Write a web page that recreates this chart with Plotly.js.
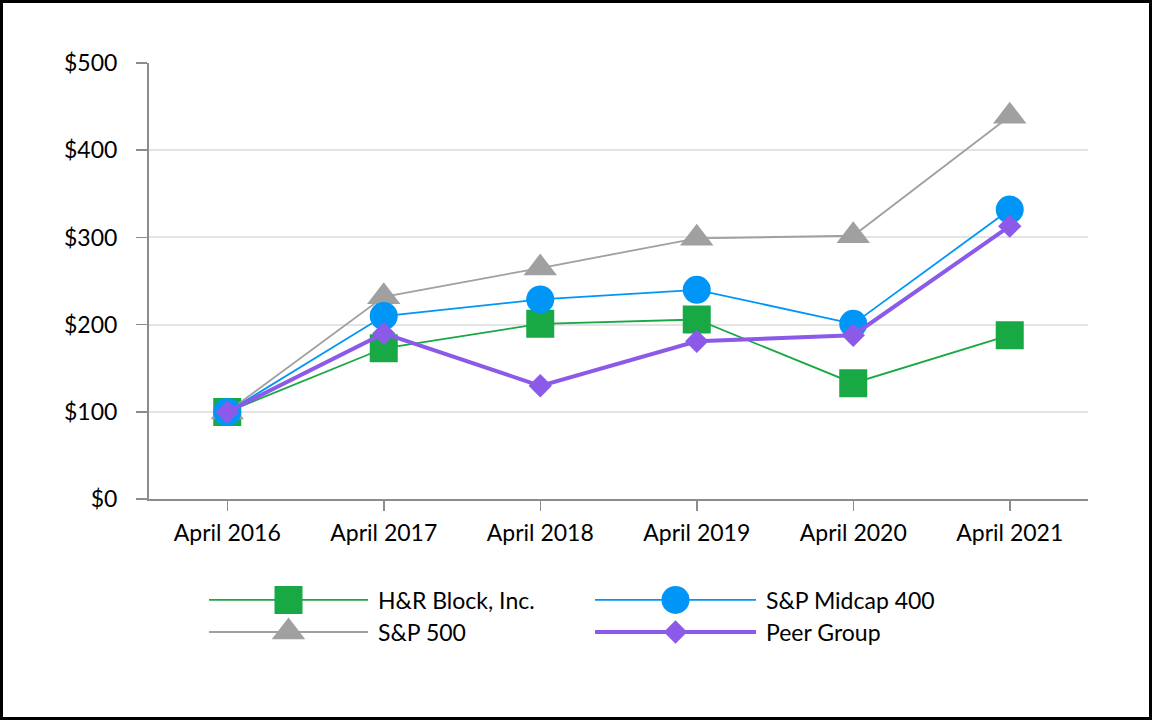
<!DOCTYPE html>
<html>
<head>
<meta charset="utf-8">
<script src="https://cdn.plot.ly/plotly-3.0.1.min.js"></script>
<style>
  html, body { margin: 0; padding: 0; background: #fff; }
  #wrap { width: 1152px; height: 720px; box-sizing: border-box; border: 3px solid #000; background: #fff; }
  #chart { width: 1146px; height: 714px; }
</style>
</head>
<body>
<div id="wrap"><div id="chart"></div></div>
<script>
// ---- data ----
const categories = ["April 2016", "April 2017", "April 2018", "April 2019", "April 2020", "April 2021"];
const hrBlock   = [100, 173, 201, 206, 133, 188];
const spMidcap  = [100, 210, 229, 240, 201, 332];
const sp500     = [100, 232, 265, 299, 302, 439];
const peerGroup = [100, 190, 130, 181, 188, 313];
const seriesNames = ["H&R Block, Inc.", "S&P Midcap 400", "S&P 500", "Peer Group"];
const yTicks = [0, 100, 200, 300, 400, 500];

// ---- styles ----
const FONT = "Lato, 'Open Sans', sans-serif";
const FS = 23;
const styles = {
  "H&R Block, Inc.": {color: "#18a844", symbol: "square", size: 28, width: 1.8},
  "S&P Midcap 400":  {color: "#0096f8", symbol: "circle", size: 28, width: 1.8},
  "S&P 500":         {color: "#a0a0a0", symbol: "triangle-up", size: 29, width: 1.8},
  "Peer Group":      {color: "#8c5ae8", symbol: "diamond", size: 18, width: 4}
};
const seriesData = {
  "H&R Block, Inc.": hrBlock,
  "S&P Midcap 400": spMidcap,
  "S&P 500": sp500,
  "Peer Group": peerGroup
};
// drawing order (back to front)
const drawOrder = ["H&R Block, Inc.", "S&P 500", "S&P Midcap 400", "Peer Group"];

const traces = drawOrder.map(name => ({
  type: "scatter",
  mode: "lines+markers",
  name: name,
  x: categories,
  y: seriesData[name],
  line: {color: styles[name].color, width: styles[name].width},
  marker: {color: styles[name].color, symbol: styles[name].symbol, size: styles[name].size, opacity: 1, line: {width: 0}},
  xaxis: "x", yaxis: "y",
  showlegend: false,
  hoverinfo: "skip"
}));

// ---- custom legend (layout positions in image pixels on a hidden overlay axis) ----
const legendSlots = [
  {x0: 209, x1: 368, y: 600, tx: 376},
  {x0: 595, x1: 756, y: 600, tx: 764},
  {x0: 209, x1: 368, y: 632, tx: 376},
  {x0: 595, x1: 756, y: 632, tx: 764}
];
const legendOrder = ["H&R Block, Inc.", "S&P Midcap 400", "S&P 500", "Peer Group"];
const annotations = [];
legendOrder.forEach((name, i) => {
  const s = legendSlots[i], st = styles[name];
  traces.push({
    type: "scatter", mode: "lines+markers",
    x: [s.x0, (s.x0 + s.x1) / 2, s.x1], y: [s.y, s.y, s.y],
    line: {color: st.color, width: st.width},
    marker: {color: st.color, symbol: st.symbol, size: [0, st.size, 0], opacity: 1, line: {width: 0}},
    xaxis: "x2", yaxis: "y2", showlegend: false, hoverinfo: "skip"
  });
  annotations.push({
    xref: "x2", yref: "y2", x: s.tx, y: s.y, text: name, showarrow: false,
    xanchor: "left", yanchor: "middle", font: {family: FONT, size: FS, color: "#000"}
  });
});

const layout = {
  width: 1146, height: 714,
  margin: {l: 146, r: 61, t: 60.3, b: 37, pad: 0},
  paper_bgcolor: "#fff", plot_bgcolor: "#fff",
  showlegend: false,
  font: {family: FONT, size: FS, color: "#000"},
  xaxis: {
    type: "category", categoryorder: "array", categoryarray: categories,
    range: [-0.5, 5.5], domain: [0, 1], anchor: "y",
    showgrid: false, zeroline: false,
    showline: true, linecolor: "#8c8c8c", linewidth: 2,
    ticks: "outside", ticklen: 10, tickwidth: 1.5, tickcolor: "#8c8c8c",
    ticklabelstandoff: 2,
    tickfont: {family: FONT, size: FS, color: "#000"},
    fixedrange: true
  },
  yaxis: {
    range: [0, 500], domain: [0.293, 1], anchor: "x",
    tickvals: yTicks, ticktext: yTicks.map(v => "$" + v),
    showgrid: true, gridcolor: "#e4e4e4", gridwidth: 2,
    zeroline: false,
    showline: true, linecolor: "#8c8c8c", linewidth: 2,
    ticks: "outside", ticklen: 11, tickwidth: 1.5, tickcolor: "#8c8c8c",
    ticklabelstandoff: 14,
    tickfont: {family: FONT, size: FS, color: "#000"},
    fixedrange: true
  },
  xaxis2: {domain: [0, 1], range: [149, 1088], anchor: "y2", visible: false, fixedrange: true},
  yaxis2: {domain: [0, 0.25], range: [680, 525.8], anchor: "x2", visible: false, fixedrange: true},
  annotations: annotations
};

Plotly.newPlot("chart", traces, layout, {displayModeBar: false, staticPlot: true});
</script>
</body>
</html>
